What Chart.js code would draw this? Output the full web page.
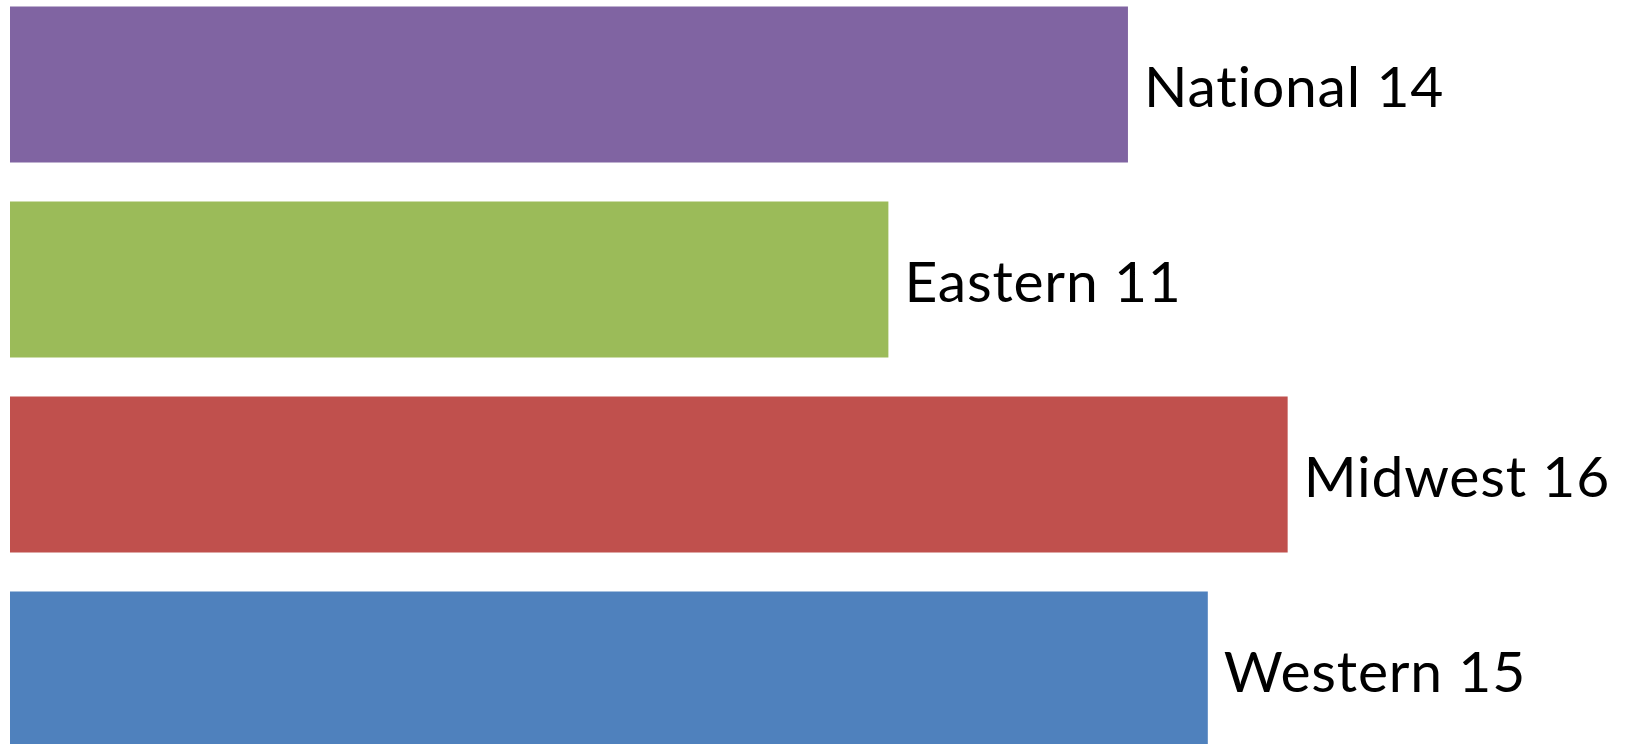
<!DOCTYPE html>
<html>
<head>
<meta charset="utf-8">
<title>Regional totals</title>
<script src="https://cdn.jsdelivr.net/npm/chart.js@4/dist/chart.umd.min.js"></script>
<style>
  html, body { margin: 0; padding: 0; background: #fff; overflow: hidden; }
  body { width: 1647px; height: 744px; position: relative; }
  #chart { position: absolute; left: 0; top: -13px; }
</style>
</head>
<body>
<canvas id="chart" width="1647" height="780"></canvas>
<script>
// regions, top to bottom
const regions = ['National', 'Eastern', 'Midwest', 'Western'];
const totals = [14, 11, 16, 15];
const barColors = ['#8064A2', '#9BBB59', '#C0504D', '#4F81BD'];

// writes "Region value" just past the end of each bar
const endLabels = {
  id: 'endLabels',
  afterDatasetsDraw(chart) {
    const ctx = chart.ctx;
    const meta = chart.getDatasetMeta(0);
    ctx.save();
    ctx.font = '57px Lato, "Open Sans", sans-serif';
    ctx.letterSpacing = '0.8px';
    ctx.fillStyle = '#000';
    ctx.textAlign = 'left';
    ctx.textBaseline = 'alphabetic';
    meta.data.forEach((bar, i) => {
      const text = regions[i] + ' ' + totals[i];
      ctx.fillText(text, bar.x + 16, bar.y + 22);
    });
    ctx.restore();
  }
};

new Chart(document.getElementById('chart'), {
  type: 'bar',
  data: {
    labels: regions,
    datasets: [{
      data: totals,
      backgroundColor: barColors,
      borderWidth: 0,
      barPercentage: 0.8,
      categoryPercentage: 1
    }]
  },
  options: {
    indexAxis: 'y',
    responsive: false,
    animation: false,
    layout: { padding: { left: 10, right: 0, top: 0, bottom: 0 } },
    plugins: { legend: { display: false }, tooltip: { enabled: false } },
    scales: {
      x: { display: false, min: 0, max: 20.5 },
      y: { display: false }
    }
  },
  plugins: [endLabels]
});
</script>
</body>
</html>
